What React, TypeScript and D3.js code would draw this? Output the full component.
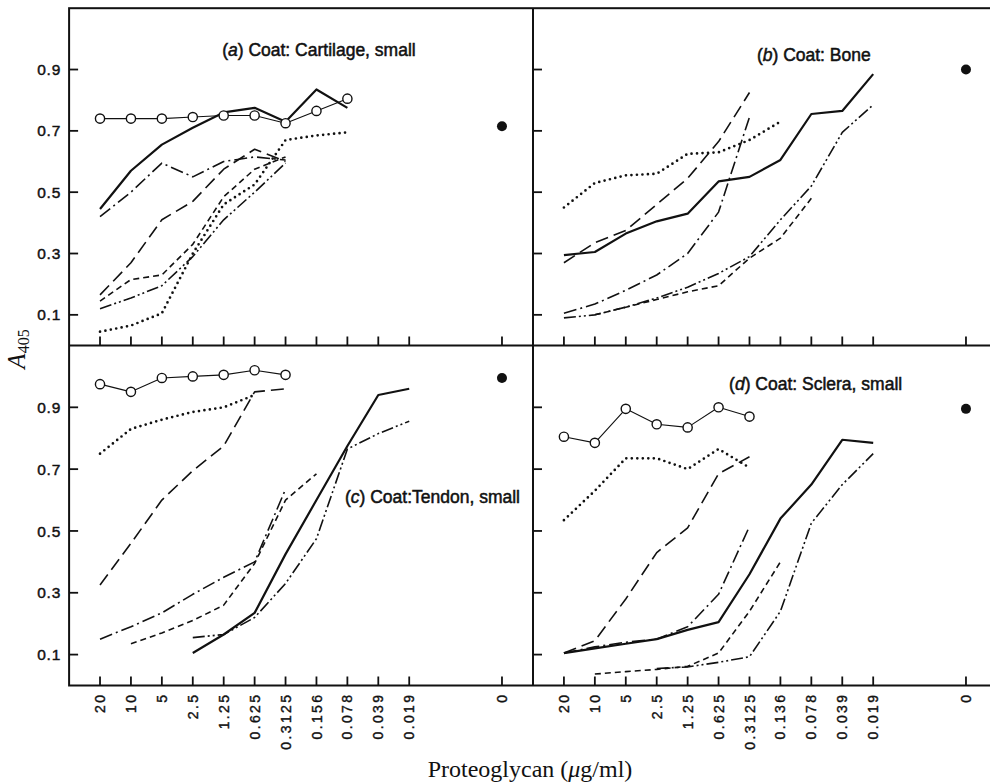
import { useEffect, useRef } from "react";
import * as d3 from "d3";

// x categories (proteoglycan dilutions, µg/ml) – 11 dilutions then a gap then "0"
const leftLabels = ["20", "10", "5", "2.5", "1.25", "0.625", "0.3125", "0.156", "0.078", "0.039", "0.019"];
const rightLabels = ["20", "10", "5", "2.5", "1.25", "0.625", "0.3125", "0.136", "0.078", "0.039", "0.019"];
const zeroLabel = "0";
const zeroIndex = 13;
const yTicks = [0.1, 0.3, 0.5, 0.7, 0.9];

// (a) Coat: Cartilage, small
const aCircles = [0.74, 0.74, 0.74, 0.745, 0.75, 0.75, 0.725, 0.765, 0.805];
const aSolid = [0.445, 0.57, 0.655, 0.71, 0.76, 0.775, 0.73, 0.835, 0.775];
const aDashDot = [0.42, 0.5, 0.595, 0.55, 0.6, 0.615, 0.605];
const aLongDash = [0.165, 0.27, 0.41, 0.47, 0.575, 0.64, 0.6];
const aShortDash = [0.145, 0.215, 0.23, 0.33, 0.485, 0.575, 0.615];
const aDashDotDot = [0.12, 0.155, 0.195, 0.29, 0.41, 0.5, 0.595];
const aDotted = [0.045, 0.065, 0.105, 0.3, 0.46, 0.525, 0.67, 0.685, 0.695];
const aZero = 0.715;

// (b) Coat: Bone
const bSolid = [0.295, 0.305, 0.365, 0.405, 0.43, 0.535, 0.55, 0.605, 0.755, 0.765, 0.885];
const bLongDash = [0.27, 0.335, 0.375, 0.46, 0.545, 0.665, 0.825];
const bDotted = [0.45, 0.53, 0.555, 0.56, 0.625, 0.63, 0.67, 0.73];
const bDashDot = [0.105, 0.135, 0.18, 0.23, 0.3, 0.435, 0.745];
const bDashDotDot = [0.09, 0.1, 0.125, 0.155, 0.19, 0.235, 0.29, 0.41, 0.52, 0.695, 0.785];
const bShortDash = [null, 0.1, 0.125, 0.15, 0.175, 0.195, 0.285, 0.35, 0.48];
const bZero = 0.9;

// (c) Coat: Tendon, small
const cCircles = [0.975, 0.95, 0.995, 1.0, 1.005, 1.02, 1.005];
const cDotted = [0.75, 0.83, 0.86, 0.885, 0.9, 0.94];
const cLongDash = [0.325, 0.46, 0.6, 0.695, 0.775, 0.95, 0.96];
const cDashDot = [0.15, 0.19, 0.235, 0.295, 0.35, 0.4, 0.635];
const cShortDash = [null, 0.135, 0.17, 0.21, 0.26, 0.395, 0.6, 0.685];
const cSolid = [null, null, null, 0.105, 0.165, 0.235, 0.425, 0.6, 0.775, 0.94, 0.96];
const cDashDotDot = [null, null, null, 0.155, 0.165, 0.22, 0.33, 0.475, 0.765, 0.815, 0.855];
const cZero = 0.995;

// (d) Coat: Sclera, small
const dCircles = [0.805, 0.785, 0.895, 0.845, 0.835, 0.9, 0.87];
const dDotted = [0.535, 0.63, 0.735, 0.735, 0.7, 0.765, 0.705];
const dLongDash = [0.105, 0.145, 0.28, 0.43, 0.51, 0.685, 0.74];
const dDashDot = [0.105, 0.125, 0.14, 0.15, 0.19, 0.295, 0.515];
const dSolid = [0.105, 0.12, 0.135, 0.15, 0.18, 0.205, 0.36, 0.54, 0.65, 0.795, 0.785];
const dShortDash = [null, 0.037, 0.045, 0.052, 0.062, 0.105, 0.24, 0.4];
const dDashDotDot = [null, null, null, 0.055, 0.06, 0.075, 0.093, 0.24, 0.525, 0.65, 0.75];
const dZero = 0.895;

const lineStyles: Record<string, { w: number; dash: string | null; cap?: string }> = {
  circle: { w: 1.1, dash: null },
  solid: { w: 2.2, dash: null },
  longDash: { w: 1.6, dash: "13,6" },
  shortDash: { w: 1.6, dash: "6,4" },
  dashDot: { w: 1.6, dash: "13,4,2,4" },
  dashDotDot: { w: 1.6, dash: "12,3,2,3,2,3" },
  dotted: { w: 2.7, dash: "0,5.5", cap: "round" },
};

export default function App() {
  const ref = useRef<SVGSVGElement>(null);

  useEffect(() => {
    const svg = d3.select(ref.current);
    svg.selectAll("*").remove();

    const sans = "'Liberation Sans', Arial, sans-serif";
    const serif = "'Liberation Serif', 'Times New Roman', serif";

    const xLeft = d3.scaleLinear().domain([-1, 14]).range([69.1, 532.9]);
    const xRight = d3.scaleLinear().domain([-1, 14]).range([533, 996.9]);
    const yTop = d3.scaleLinear().domain([0, 1.1]).range([345.5, 8.2]);
    const yBottom = d3.scaleLinear().domain([0, 1.1]).range([685.5, 345.5]);

    const panels = [
      {
        x: xLeft, y: yTop, letter: "a", rest: ") Coat: Cartilage, small", tx: 3.95, ty: 0.944, zero: aZero,
        series: [
          { s: "dotted", v: aDotted }, { s: "dashDotDot", v: aDashDotDot }, { s: "shortDash", v: aShortDash },
          { s: "longDash", v: aLongDash }, { s: "dashDot", v: aDashDot }, { s: "solid", v: aSolid },
          { s: "circle", v: aCircles },
        ],
      },
      {
        x: xRight, y: yTop, letter: "b", rest: ") Coat: Bone", tx: 6.24, ty: 0.928, zero: bZero,
        series: [
          { s: "dotted", v: bDotted }, { s: "dashDotDot", v: bDashDotDot }, { s: "shortDash", v: bShortDash },
          { s: "longDash", v: bLongDash }, { s: "dashDot", v: bDashDot }, { s: "solid", v: bSolid },
        ],
      },
      {
        x: xLeft, y: yBottom, letter: "c", rest: ") Coat:Tendon, small", tx: 7.92, ty: 0.59, zero: cZero,
        series: [
          { s: "dotted", v: cDotted }, { s: "dashDotDot", v: cDashDotDot }, { s: "shortDash", v: cShortDash },
          { s: "longDash", v: cLongDash }, { s: "dashDot", v: cDashDot }, { s: "solid", v: cSolid },
          { s: "circle", v: cCircles },
        ],
      },
      {
        x: xRight, y: yBottom, letter: "d", rest: ") Coat: Sclera, small", tx: 5.34, ty: 0.956, zero: dZero,
        series: [
          { s: "dotted", v: dDotted }, { s: "dashDotDot", v: dDashDotDot }, { s: "shortDash", v: dShortDash },
          { s: "longDash", v: dLongDash }, { s: "dashDot", v: dDashDot }, { s: "solid", v: dSolid },
          { s: "circle", v: dCircles },
        ],
      },
    ];

    // frame
    const frame = svg.append("g").attr("stroke", "#111").attr("stroke-width", 2).attr("fill", "none");
    frame.append("rect").attr("x", xLeft(-1)).attr("y", yTop(1.1)).attr("width", xRight(14) - xLeft(-1)).attr("height", yBottom(0) - yTop(1.1));
    frame.append("line").attr("x1", xLeft(-1)).attr("x2", 990).attr("y1", yTop(0)).attr("y2", yTop(0));
    frame.append("line").attr("x1", xRight(-1)).attr("x2", xRight(-1)).attr("y1", yTop(1.1)).attr("y2", yBottom(0));

    const ticksIdx = d3.range(11).concat([zeroIndex]);

    panels.forEach((p, pi) => {
      const g = svg.append("g");
      const x0 = p.x(-1);
      const yBase = p.y(0);

      // y ticks (inward)
      g.selectAll(".yt").data(yTicks).join("line")
        .attr("x1", x0).attr("x2", x0 + 9)
        .attr("y1", (d) => p.y(d)).attr("y2", (d) => p.y(d))
        .attr("stroke", "#111").attr("stroke-width", 1.8);

      // x ticks (inward, upwards)
      g.selectAll(".xt").data(ticksIdx).join("line")
        .attr("x1", (d) => p.x(d)).attr("x2", (d) => p.x(d))
        .attr("y1", yBase).attr("y2", yBase - 9)
        .attr("stroke", "#111").attr("stroke-width", 1.8);

      if (pi % 2 === 0) {
        g.selectAll(".yl").data(yTicks).join("text")
          .attr("x", x0 - 8).attr("y", (d) => p.y(d)).attr("dy", "0.36em")
          .attr("text-anchor", "end").attr("font-family", sans).attr("font-size", 15.5)
          .attr("letter-spacing", 0.8).attr("fill", "#111")
          .attr("stroke", "#111").attr("stroke-width", 0.45)
          .text((d) => d.toFixed(1));
      }

      // series
      p.series.forEach((ser) => {
        const st = lineStyles[ser.s];
        const line = d3.line<number | null>()
          .defined((v) => v != null)
          .x((_, i) => p.x(i))
          .y((v) => p.y(v as number));
        g.append("path").datum(ser.v)
          .attr("d", line)
          .attr("fill", "none").attr("stroke", "#111")
          .attr("stroke-width", st.w)
          .attr("stroke-dasharray", st.dash)
          .attr("stroke-linecap", st.cap ?? "butt")
          .attr("stroke-linejoin", "round");
        if (ser.s === "circle") {
          g.selectAll(".c" + pi).data(ser.v).join("circle")
            .attr("cx", (_, i) => p.x(i)).attr("cy", (v) => p.y(v as number))
            .attr("r", 4.6).attr("fill", "#fff").attr("stroke", "#111").attr("stroke-width", 1.4);
        }
      });

      // control (0 µg/ml)
      g.append("circle").attr("cx", p.x(zeroIndex)).attr("cy", p.y(p.zero)).attr("r", 5).attr("fill", "#111");

      // panel title
      const t = g.append("text").attr("x", p.x(p.tx)).attr("y", p.y(p.ty))
        .attr("font-family", sans).attr("font-size", 17.5).attr("fill", "#111")
        .attr("stroke", "#111").attr("stroke-width", 0.5);
      t.append("tspan").text("(");
      t.append("tspan").attr("font-style", "italic").text(p.letter);
      t.append("tspan").text(p.rest);
    });

    // x tick labels (rotated)
    const labelSets = [
      { x: xLeft, labels: leftLabels },
      { x: xRight, labels: rightLabels },
    ];
    labelSets.forEach((ls) => {
      const items = ls.labels.map((l, i) => ({ l, i })).concat([{ l: zeroLabel, i: zeroIndex }]);
      svg.append("g").selectAll("text").data(items).join("text")
        .attr("transform", (d) => `translate(${ls.x(d.i)},${yBottom(0) + 7}) rotate(-90)`)
        .attr("dy", "0.36em").attr("text-anchor", "end")
        .attr("font-family", sans).attr("font-size", 14).attr("letter-spacing", 2.4)
        .attr("fill", "#111").attr("stroke", "#111").attr("stroke-width", 0.4)
        .text((d) => d.l);
    });

    // axis titles
    const yt = svg.append("text").attr("transform", "translate(25,349) rotate(-90)")
      .attr("text-anchor", "middle").attr("font-family", serif).attr("fill", "#111");
    yt.append("tspan").attr("font-style", "italic").attr("font-size", 25).text("A");
    yt.append("tspan").attr("font-size", 16).attr("dy", 4).text("405");

    const xt = svg.append("text").attr("x", 530).attr("y", 777)
      .attr("text-anchor", "middle").attr("font-family", serif).attr("font-size", 24).attr("fill", "#111");
    xt.append("tspan").text("Proteoglycan (");
    xt.append("tspan").attr("font-style", "italic").text("\u03bc");
    xt.append("tspan").text("g/ml)");
  }, []);

  return (
    <svg ref={ref} width={990} height={784}
      style={{ position: "absolute", left: 0, top: 0, background: "#fff" }} />
  );
}
